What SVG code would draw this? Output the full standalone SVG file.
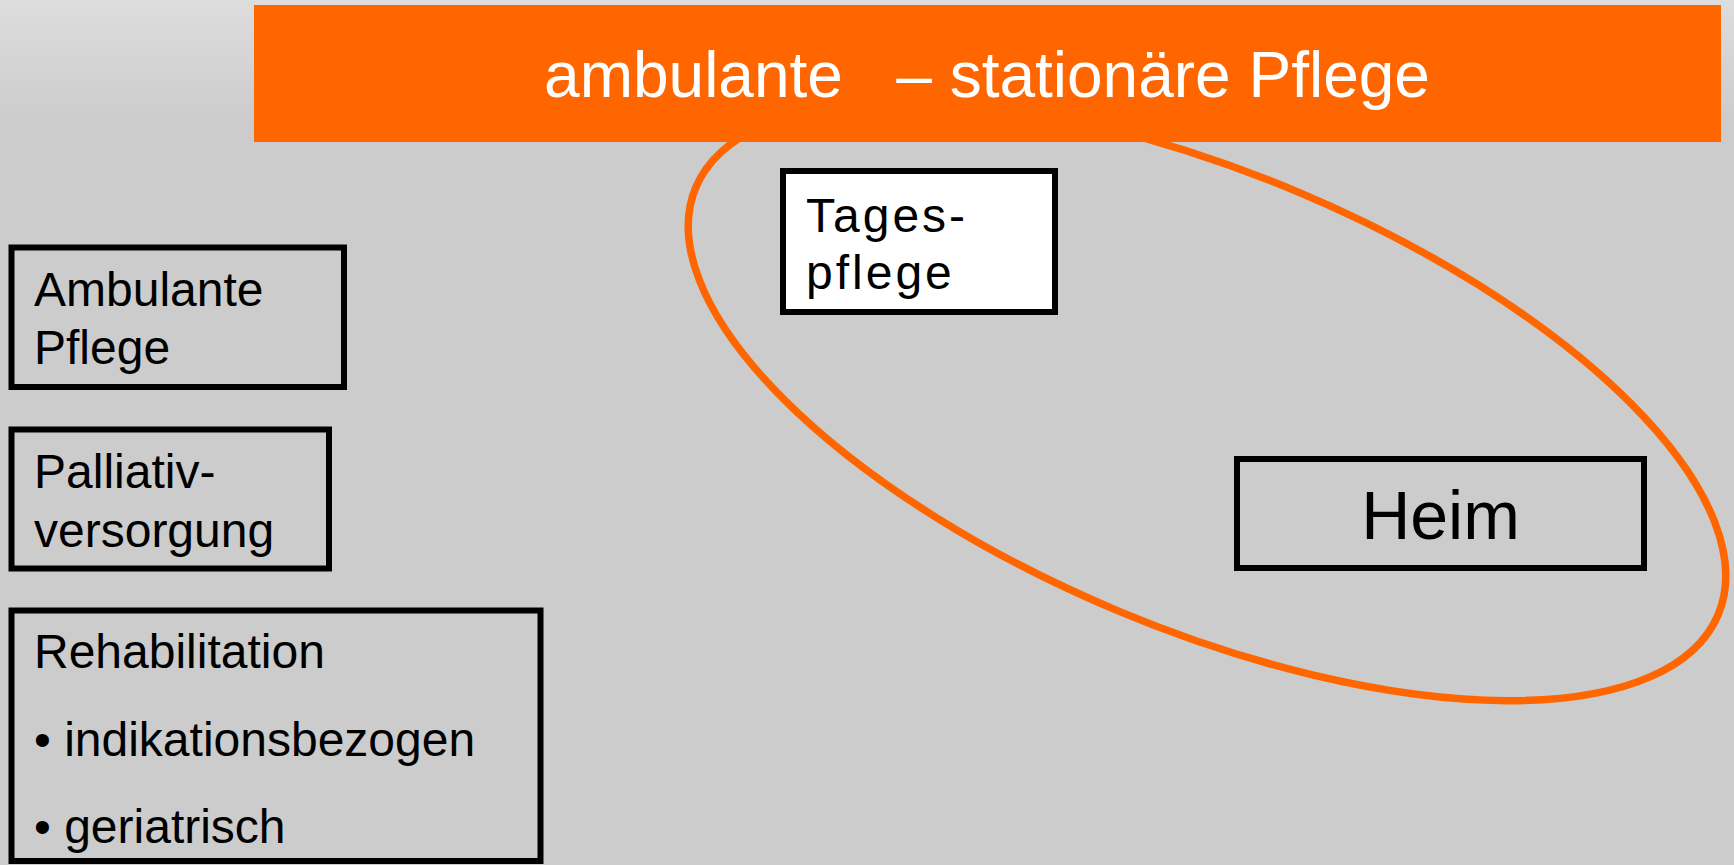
<svg xmlns="http://www.w3.org/2000/svg" width="1734" height="865" viewBox="0 0 1734 865">
  <defs>
    <linearGradient id="bg" x1="0" y1="0" x2="0" y2="1" gradientUnits="objectBoundingBox">
      <stop offset="0" stop-color="#dddddd"/>
      <stop offset="0.14" stop-color="#cccccc"/>
      <stop offset="1" stop-color="#cccccc"/>
    </linearGradient>
    <style>
      .box { fill: none; stroke: #000000; stroke-width: 6; }
      .wbox { fill: #ffffff; stroke: #000000; stroke-width: 6; }
      .t { font-family: "Liberation Sans", Arial, sans-serif; font-size: 48px; fill: #000000; }
      .title { font-family: "Liberation Sans", Arial, sans-serif; font-size: 64px; fill: #ffffff; }
    </style>
  </defs>
  <rect x="0" y="0" width="1734" height="865" fill="url(#bg)"/>

  <g id="ellipse">
    <ellipse cx="1207" cy="401" rx="554" ry="228" transform="rotate(22.66 1207 401)" fill="none" stroke="#ff6600" stroke-width="7.5"/>
  </g>

  <g id="banner">
    <rect x="254" y="5" width="1467" height="137" fill="#ff6600"/>
    <text class="title" x="987" y="97" text-anchor="middle" xml:space="preserve">ambulante   – stationäre Pflege</text>
  </g>

  <g id="connectors"></g>

  <g id="ambulante-pflege">
    <rect class="box" x="11.5" y="247.5" width="332.5" height="139.5"/>
    <text class="t" x="34" y="306">Ambulante</text>
    <text class="t" x="34" y="364">Pflege</text>
  </g>

  <g id="palliativversorgung">
    <rect class="box" x="11.5" y="429.5" width="317.5" height="139"/>
    <text class="t" x="34" y="488">Palliativ-</text>
    <text class="t" x="34" y="547">versorgung</text>
  </g>

  <g id="rehabilitation">
    <rect class="box" x="11.5" y="610.5" width="529" height="250.5"/>
    <text class="t" x="34" y="668">Rehabilitation</text>
    <text class="t" x="34" y="756">• indikationsbezogen</text>
    <text class="t" x="34" y="843">• geriatrisch</text>
  </g>

  <g id="tagespflege">
    <rect class="wbox" x="783" y="171" width="272" height="141"/>
    <text class="t" x="806" y="232" letter-spacing="3">Tages-</text>
    <text class="t" x="806" y="289" letter-spacing="3">pflege</text>
  </g>

  <g id="heim">
    <rect class="box" x="1237" y="459" width="407" height="109"/>
    <text class="t" x="1440.5" y="539" text-anchor="middle" style="font-size:68px">Heim</text>
  </g>
</svg>
